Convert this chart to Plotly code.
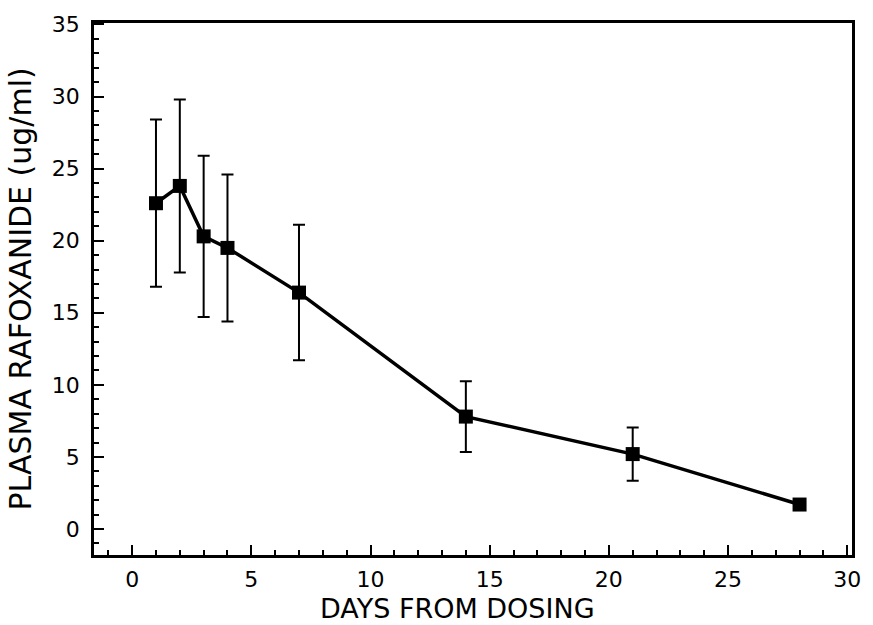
import plotly.graph_objects as go

days = [1, 2, 3, 4, 7, 14, 21, 28]
conc = [22.6, 23.8, 20.3, 19.5, 16.4, 7.8, 5.2, 1.7]
err = [5.8, 6.0, 5.6, 5.1, 4.7, 2.45, 1.85, 0.3]

x_title = "DAYS FROM DOSING"
y_title = "PLASMA RAFOXANIDE (ug/ml)"

fig = go.Figure()
fig.add_trace(go.Scatter(
    x=days, y=conc, mode="lines+markers",
    line=dict(color="black", width=3.5),
    marker=dict(symbol="square", size=14, color="black"),
    error_y=dict(type="data", array=err, visible=True, color="black",
                 thickness=2, width=6),
    showlegend=False,
))

axis_common = dict(
    showgrid=False, zeroline=False, showline=True, linecolor="black",
    linewidth=2.5, mirror=True, ticks="inside", tickcolor="black",
    tickwidth=2, ticklen=10,
    tickfont=dict(family="DejaVu Sans", size=22, color="black"),
    minor=dict(dtick=1, ticks="inside", ticklen=5, tickwidth=1.5,
               tickcolor="black", showgrid=False),
)

fig.update_xaxes(range=[-1.6, 30.2], dtick=5, tick0=0,
                 ticklabelstandoff=3, **axis_common)
fig.update_yaxes(range=[-1.8, 35.1], dtick=5, tick0=0,
                 ticklabelstandoff=7, **axis_common)

fig.add_annotation(text=x_title, xref="paper", yref="paper",
                   x=0.48, y=-0.1, xanchor="center", yanchor="middle",
                   showarrow=False,
                   font=dict(family="DejaVu Sans", size=27, color="black"))
fig.add_annotation(text=y_title, xref="paper", yref="paper",
                   x=-0.097, y=0.5, xanchor="center", yanchor="middle",
                   textangle=-90, showarrow=False,
                   font=dict(family="DejaVu Sans", size=30, color="black"))

fig.update_layout(
    width=873, height=625,
    margin=dict(l=94, r=16, t=16, b=70),
    plot_bgcolor="white", paper_bgcolor="white",
)

fig.write_html("out.html")
